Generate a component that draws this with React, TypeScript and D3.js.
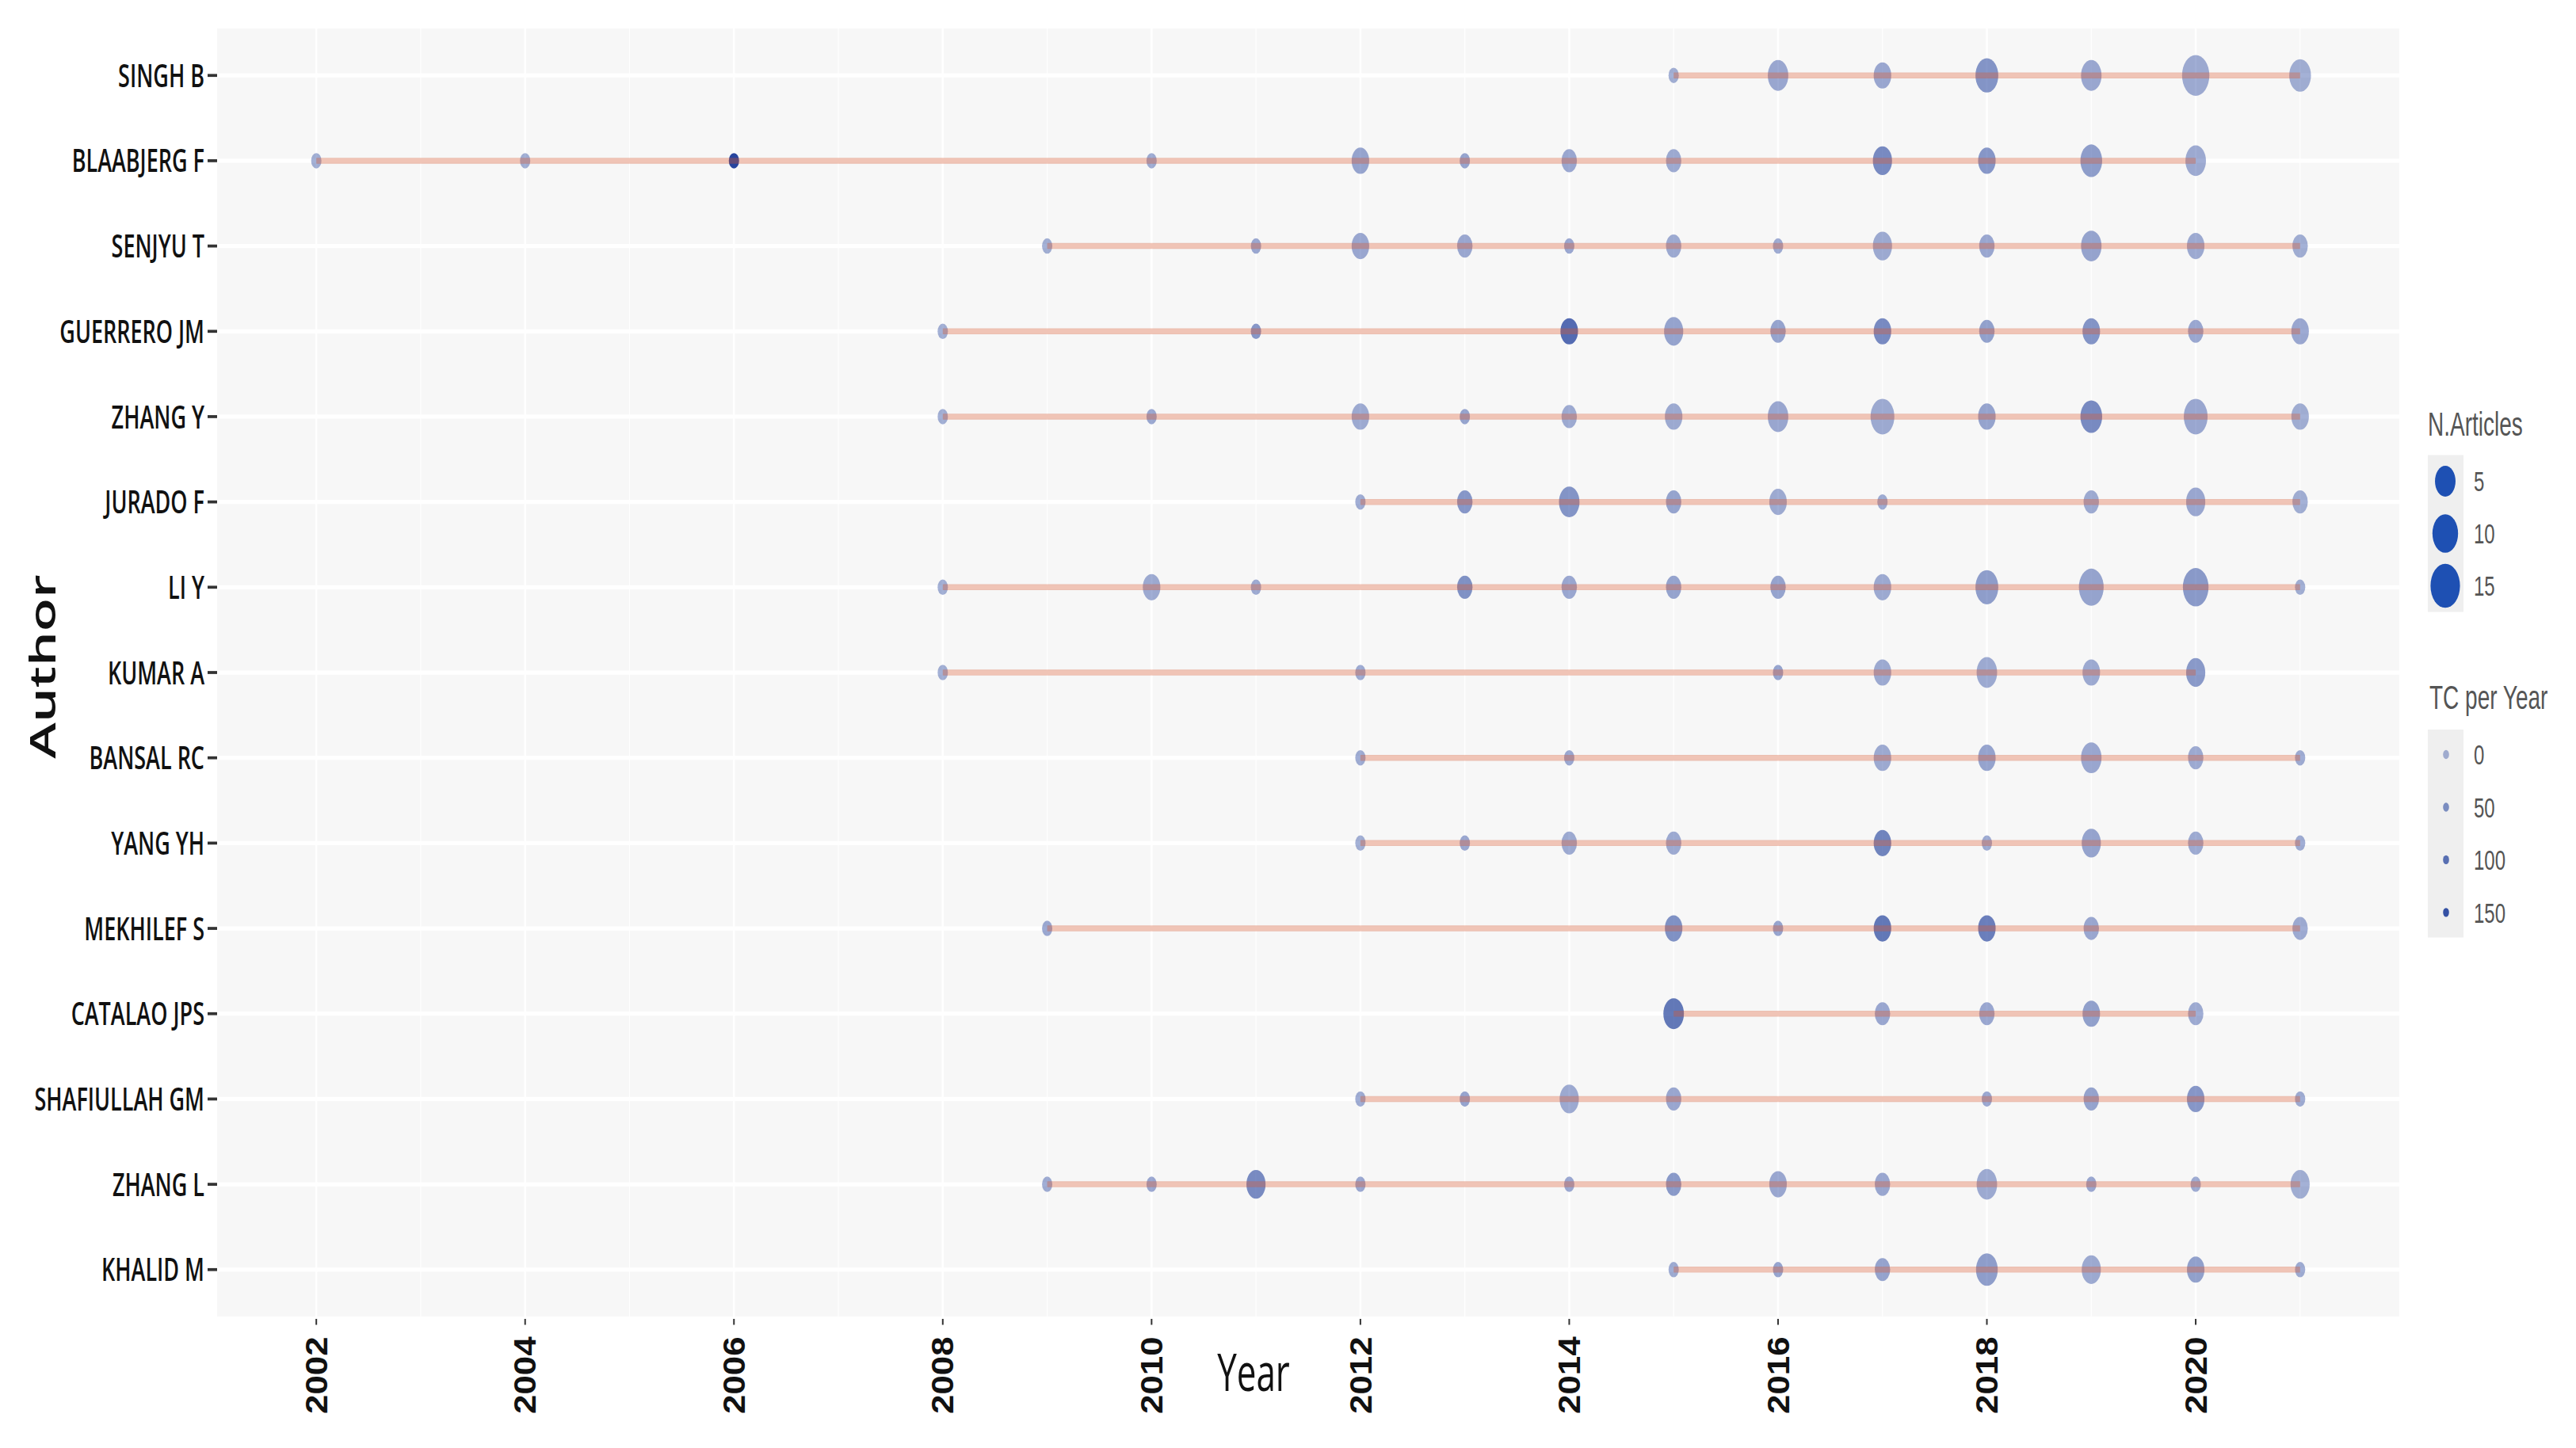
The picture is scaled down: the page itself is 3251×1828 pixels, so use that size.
import React from 'react';
import * as d3 from 'd3';

// authors, top to bottom
const authors = [
  'SINGH B', 'BLAABJERG F', 'SENJYU T', 'GUERRERO JM', 'ZHANG Y', 'JURADO F', 'LI Y', 'KUMAR A',
  'BANSAL RC', 'YANG YH', 'MEKHILEF S', 'CATALAO JPS', 'SHAFIULLAH GM', 'ZHANG L', 'KHALID M',
];

// publication years per author
const years: number[][] = [
  [2015, 2016, 2017, 2018, 2019, 2020, 2021],
  [2002, 2004, 2006, 2010, 2012, 2013, 2014, 2015, 2017, 2018, 2019, 2020],
  [2009, 2011, 2012, 2013, 2014, 2015, 2016, 2017, 2018, 2019, 2020, 2021],
  [2008, 2011, 2014, 2015, 2016, 2017, 2018, 2019, 2020, 2021],
  [2008, 2010, 2012, 2013, 2014, 2015, 2016, 2017, 2018, 2019, 2020, 2021],
  [2012, 2013, 2014, 2015, 2016, 2017, 2019, 2020, 2021],
  [2008, 2010, 2011, 2013, 2014, 2015, 2016, 2017, 2018, 2019, 2020, 2021],
  [2008, 2012, 2016, 2017, 2018, 2019, 2020],
  [2012, 2014, 2017, 2018, 2019, 2020, 2021],
  [2012, 2013, 2014, 2015, 2017, 2018, 2019, 2020, 2021],
  [2009, 2015, 2016, 2017, 2018, 2019, 2021],
  [2015, 2017, 2018, 2019, 2020],
  [2012, 2013, 2014, 2015, 2018, 2019, 2020, 2021],
  [2009, 2010, 2011, 2012, 2014, 2015, 2016, 2017, 2018, 2019, 2020, 2021],
  [2015, 2016, 2017, 2018, 2019, 2020, 2021],
];

// number of articles (bubble size)
const articles: number[][] = [
  [1, 5, 3, 7, 5, 12, 6],
  [1, 1, 1, 1, 3, 1, 2, 2, 4, 3, 6, 5],
  [1, 1, 3, 2, 1, 2, 1, 4, 2, 5, 3, 2],
  [1, 1, 3, 4, 2, 3, 2, 3, 2, 3],
  [1, 1, 3, 1, 2, 3, 5, 8, 3, 6, 8, 3],
  [1, 2, 5, 2, 3, 1, 2, 4, 2],
  [1, 3, 1, 2, 2, 2, 2, 3, 7, 9, 10, 1],
  [1, 1, 1, 3, 5, 3, 4],
  [1, 1, 3, 3, 5, 2, 1],
  [1, 1, 2, 2, 3, 1, 4, 2, 1],
  [1, 3, 1, 3, 3, 2, 2],
  [5, 2, 2, 3, 2],
  [1, 1, 4, 2, 1, 2, 3, 1],
  [1, 1, 4, 1, 1, 2, 3, 2, 5, 1, 1, 4],
  [1, 1, 2, 6, 4, 3, 1],
];

// total citations per year (bubble opacity)
const tcPerYear: number[][] = [
  [5, 15, 15, 45, 15, 10, 5],
  [5, 5, 170, 10, 20, 20, 15, 10, 60, 40, 30, 10],
  [5, 15, 15, 15, 15, 10, 10, 10, 15, 20, 10, 5],
  [5, 40, 110, 20, 20, 60, 25, 45, 15, 15],
  [5, 15, 10, 20, 10, 10, 15, 10, 20, 60, 15, 5],
  [10, 40, 45, 20, 10, 10, 10, 15, 5],
  [5, 10, 10, 50, 15, 20, 20, 10, 30, 20, 35, 5],
  [5, 10, 20, 10, 10, 10, 35],
  [10, 15, 10, 20, 15, 10, 10],
  [5, 15, 10, 10, 70, 10, 20, 10, 10],
  [15, 50, 20, 90, 80, 15, 10],
  [90, 15, 15, 25, 10],
  [10, 20, 10, 15, 15, 20, 40, 10],
  [10, 15, 60, 15, 15, 35, 15, 15, 10, 15, 10, 5],
  [10, 20, 20, 30, 10, 25, 10],
];

const yearTicks = [2002, 2004, 2006, 2008, 2010, 2012, 2014, 2016, 2018, 2020];
const minorTicks = [2003, 2005, 2007, 2009, 2011, 2013, 2015, 2017, 2019, 2021];
const sizeBreaks = [5, 10, 15];
const tcBreaks = [0, 50, 100, 150];

// the source picture was stretched vertically, so draw in an unstretched space and scale
const W = 3251;
const H = 1828;
const SY = 1.5;

const panel = { left: 274, right: 3028, top: 24, bottom: 1108 };
const pointColor = '#27459e';
const lineColor = '#d4552f';
const axisFont = '"Open Sans", "Liberation Sans", sans-serif';
const legendFont = '"Liberation Sans", Arial, sans-serif';

export default function App() {
  const x = d3.scaleLinear().domain([2001.05, 2021.95]).range([panel.left, panel.right]);
  const y = d3.scalePoint<string>().domain(authors).range([panel.top, panel.bottom]).padding(0.55);
  // area-style size scale: radius grows with sqrt of articles above the minimum
  const sizeT = d3.scaleSqrt().domain([0, 15]).range([0, 12.5]);
  const radius = (n: number) => 6.5 + sizeT(n - 1);
  const alpha = d3.scaleLinear().domain([0, 170]).range([0.4, 1]).clamp(true);

  const points = authors.flatMap((a, i) =>
    years[i].map((yr, j) => ({ author: a, year: yr, n: articles[i][j], tc: tcPerYear[i][j] }))
  );

  return (
    <svg width={W} height={H} style={{ display: 'block', background: '#fff' }}>
      <style>{'body{margin:0}'}</style>
      <g transform={`scale(1,${SY})`}>
        {/* panel */}
        <rect x={panel.left} y={panel.top} width={panel.right - panel.left}
          height={panel.bottom - panel.top} fill="#f7f7f7" />
        {minorTicks.map(t => (
          <line key={'m' + t} x1={x(t)} x2={x(t)} y1={panel.top} y2={panel.bottom}
            stroke="#fff" strokeWidth={1.2} />
        ))}
        {yearTicks.map(t => (
          <line key={'g' + t} x1={x(t)} x2={x(t)} y1={panel.top} y2={panel.bottom}
            stroke="#fff" strokeWidth={2.5} />
        ))}
        {authors.map(a => (
          <line key={'h' + a} x1={panel.left} x2={panel.right} y1={y(a)} y2={y(a)}
            stroke="#fff" strokeWidth={3.5} />
        ))}

        {/* bubbles */}
        {points.map((p, k) => (
          <circle key={k} cx={x(p.year)} cy={y(p.author)} r={radius(p.n)}
            fill={pointColor} fillOpacity={alpha(p.tc)} />
        ))}

        {/* production span lines, drawn over the points */}
        {authors.map((a, i) => {
          const [lo, hi] = d3.extent(years[i]) as [number, number];
          return (
            <line key={'l' + a} x1={x(lo)} x2={x(hi)} y1={y(a)} y2={y(a)}
              stroke={lineColor} strokeOpacity={0.35} strokeWidth={5} />
          );
        })}

        {/* y axis */}
        {authors.map(a => (
          <g key={'y' + a} transform={`translate(0,${y(a)})`}>
            <line x1={262} x2={274} stroke="#333" strokeWidth={2.5} />
            <text x={258} dy="0.36em" textAnchor="end" fontFamily={axisFont} fontSize={27}
              fontWeight={600} fill="#111">{a}</text>
          </g>
        ))}

        {/* x axis */}
        {yearTicks.map(t => (
          <g key={'x' + t} transform={`translate(${x(t)},0)`}>
            <line y1={panel.bottom + 2} y2={panel.bottom + 7} stroke="#333" strokeWidth={2} />
            <text transform={`translate(0,1125) rotate(-90)`} dy="0.36em" textAnchor="end"
              fontFamily={legendFont} fontSize={38} fontWeight="bold" fill="#111"
              textLength={65} lengthAdjust="spacingAndGlyphs">{t}</text>
          </g>
        ))}

        <text x={1582} y={1171} textAnchor="middle" fontFamily={axisFont} fontSize={44}
          fill="#111">Year</text>
        <text transform={`translate(70,561) rotate(-90)`} textAnchor="middle"
          fontFamily={axisFont} fontSize={46} fontWeight={600} fill="#111">Author</text>

        {/* legend: N.Articles */}
        <text x={3064} y={367} fontFamily={legendFont} fontSize={28} fill="#555">N.Articles</text>
        <rect x={3064} y={383} width={45} height={132} fill="#efefef" />
        {sizeBreaks.map((s, i) => (
          <g key={'s' + s} transform={`translate(0,${405 + i * 44})`}>
            <circle cx={3086} r={radius(s)} fill="#1e50b3" />
            <text x={3122} dy="0.36em" fontFamily={legendFont} fontSize={24} fill="#555">{s}</text>
          </g>
        ))}

        {/* legend: TC per Year */}
        <text x={3066} y={597} fontFamily={legendFont} fontSize={28} fill="#555">TC per Year</text>
        <rect x={3064} y={614} width={45} height={175} fill="#efefef" />
        {tcBreaks.map((t, i) => (
          <g key={'t' + t} transform={`translate(0,${635 + i * 44.3})`}>
            <circle cx={3087} r={3.8} fill={pointColor} fillOpacity={alpha(t)} />
            <text x={3122} dy="0.36em" fontFamily={legendFont} fontSize={24} fill="#555">{t}</text>
          </g>
        ))}
      </g>
    </svg>
  );
}
